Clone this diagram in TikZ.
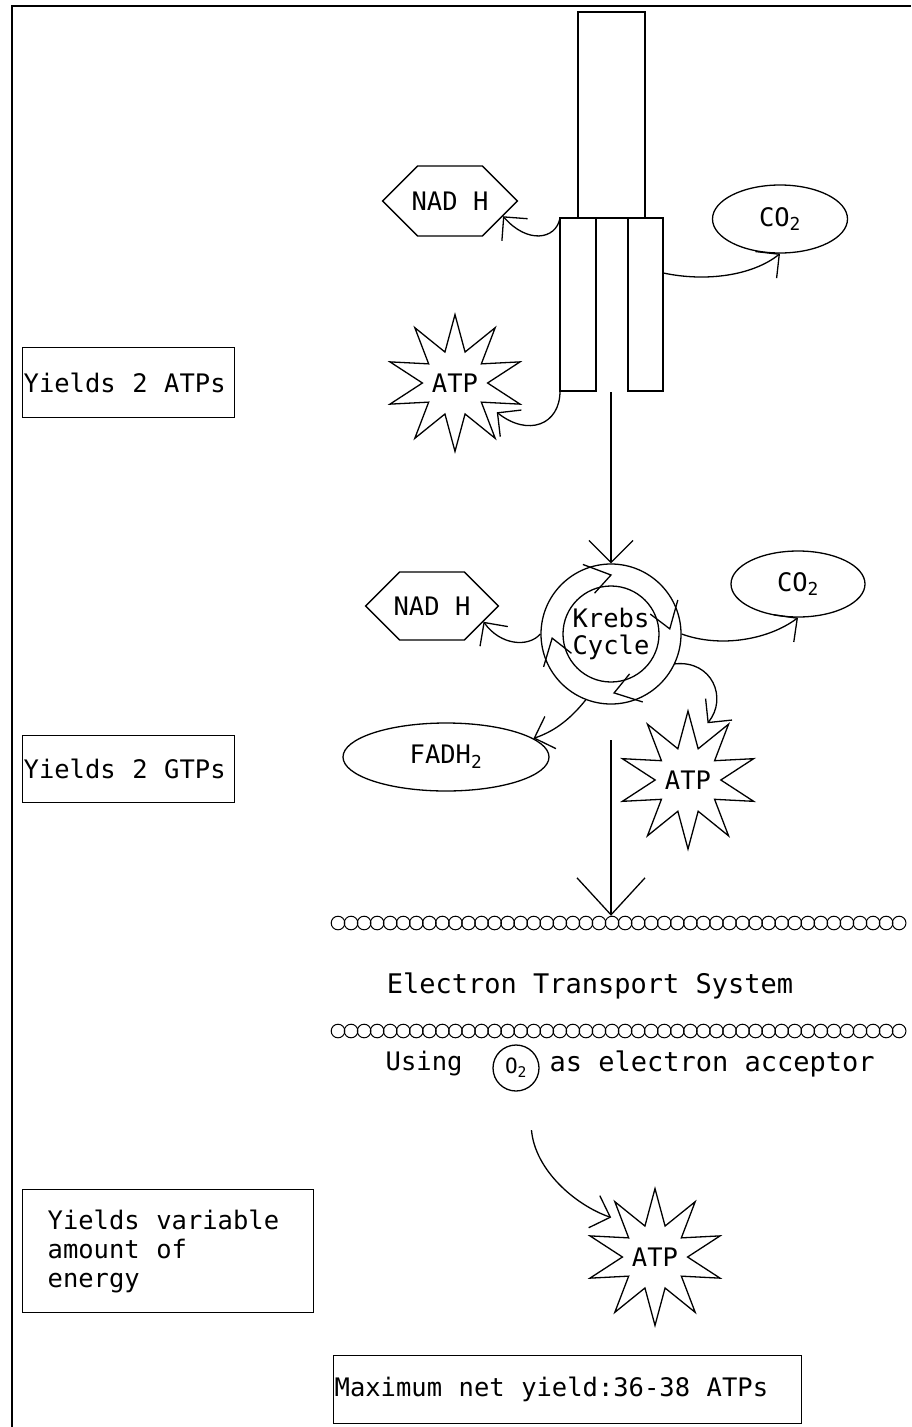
\documentclass[tikz,border=0pt]{standalone}
\usepackage{fontspec}
\setmainfont{DejaVu Sans Mono}
\usepackage{tikz}
\usetikzlibrary{shapes.geometric, shapes.symbols, arrows.meta, positioning, calc}
\tikzset{
  % Shapes
  frame/.style={draw=black, line width=2.5pt},
  line/.style={draw=black, line width=1.3pt},
  bead/.style={draw=black, line width=1pt},
  bar/.style={rectangle, draw=black, line width=1.3pt, inner sep=0pt, outer sep=0pt},
  hexbox/.style={signal, signal to=east and west, signal pointer angle=90, draw=black, line width=1.3pt, minimum height=70pt, inner xsep=-6pt, inner ysep=0pt},
  oval/.style={ellipse, draw=black, line width=1.3pt, minimum height=68pt, inner sep=0pt},
  burst/.style={star, star points=10, star point ratio=2.1, draw=black, line width=1.3pt, minimum size=136pt, inner sep=0pt},
  sidebox/.style={rectangle, draw=black, line width=1.3pt, align=left, inner sep=1pt, anchor=north west, execute at begin node={\spaceskip=0.65em\relax}},
  % Connectors
  arrow/.style={-{Straight Barb[length=17pt, width=34pt]}, line width=1.3pt},
  midarrow/.style={-{Straight Barb[length=22pt, width=44pt]}, line width=1.3pt},
  bigarrow/.style={-{Straight Barb[length=37pt, width=68pt]}, line width=1.3pt},
}

\begin{document}
\begin{tikzpicture}[x=1pt, y=-1pt, font=\fontsize{25.5}{27}\selectfont]
    \useasboundingbox (0,0) rectangle (911,1427);
    \draw[frame] (12,1427) -- (12,6) -- (911,6);

    % Bars
    \node[bar, minimum width=67pt, minimum height=206pt] (stem) at (611.5,115) {};
    \node[bar, minimum width=36pt, minimum height=173pt] (lbar) at (578,304.5) {};
    \node[bar, minimum width=35pt, minimum height=173pt] (rbar) at (645.5,304.5) {};

    % First products
    \node[hexbox] (nadha) at (450,201) {NAD H};
    \node[oval, minimum width=135pt] (coa) at (780,219) {CO\textsubscript{2}};
    \node[burst] (atpa) at (455,383) {ATP};

    \draw[arrow] (lbar.north west) .. controls (556,240) and (527,244) .. (nadha.-16);
    \draw[arrow] (lbar.south west) .. controls (560,425) and (528,437) .. ($(atpa)!51pt!(atpa.-35)$);
    \draw[arrow] (rbar.61) .. controls (705,282) and (752,276) .. (coa.south);

    % Krebs cycle
    \node[circle, draw=black, line width=1.3pt, minimum size=140pt, inner sep=0pt, align=center] (krebs) at (611,634) {Krebs\\Cycle};
    \draw[line] (krebs.center) circle (48);
    \foreach \a in {-100,-15,77,166}
      \draw[line] ($(krebs.center)+({\a-12}:44)$) -- ($(krebs.center)+({\a+10}:59)$) -- ($(krebs.center)+({\a-12}:75)$);

    \coordinate (split) at (611,392);
    \draw[midarrow] (split) -- (krebs.north);

    % Krebs products
    \node[hexbox, minimum height=68pt] (nadhb) at (432,606) {NAD H};
    \node[oval, minimum width=134pt, minimum height=66pt] (cob) at (798,584) {CO\textsubscript{2}};
    \node[oval, minimum width=206pt] (fadh) at (446,757) {FADH\textsubscript{2}};
    \node[burst, minimum size=138pt] (atpb) at (688,780) {ATP};

    \draw[arrow] (krebs.west) .. controls (528,648) and (500,645) .. (nadhb.-17);
    \draw[arrow] (krebs.east) .. controls (720,648) and (768,640) .. (cob.south);
    \draw[arrow] (krebs.-111) .. controls (568,722) and (552,732) .. (fadh.12);
    \draw[arrow] (krebs.-25) .. controls (712,660) and (728,698) .. ($(atpb)!60pt!(atpb.71)$);

    % Electron transport
    \node[minimum width=576pt, minimum height=14pt, inner sep=0pt] (etsa) at (619,923) {};
    \node[minimum width=576pt, minimum height=14pt, inner sep=0pt] (etsb) at (619,1031) {};
    \foreach \i in {0,...,43} {
      \draw[bead] (338+13.05*\i, 923) circle (6.8);
      \draw[bead] (338+13.05*\i, 1031) circle (6.8);
    }
    \coordinate (drop) at (611,740);
    \draw[bigarrow] (drop) -- (drop |- etsa.north);

    \node[font=\fontsize{27}{30}\selectfont] (etstext) at (590,986) {Electron Transport System};
    \node[anchor=east] (using) at (466,1064) {Using};
    \node[circle, draw=black, line width=1.3pt, minimum size=46pt, inner sep=0pt, font=\fontsize{21}{24}\selectfont] (oxy) at (516,1068) {O\textsubscript{2}};
    \node[anchor=west, font=\fontsize{27}{30}\selectfont] (accept) at (546,1064) {as electron acceptor};

    \node[burst, minimum size=134pt] (atpc) at (655,1257) {ATP};
    \draw[arrow] ($(oxy)!64pt!(oxy.-76)$) .. controls (535,1170) and (575,1205) .. ($(atpc)!59pt!(atpc.138)$);

    % Side notes
    \node[sidebox, minimum width=212pt, minimum height=70pt, text width=210pt] (yatp) at (22,347) {Yields 2 ATPs};
    \node[sidebox, minimum width=212pt, minimum height=67pt, text width=210pt] (ygtp) at (22,735) {Yields 2 GTPs};
    \node[sidebox, minimum height=123pt, text width=241pt, inner xsep=25pt, font=\fontsize{25.5}{29}\selectfont] (yvar) at (22,1189) {Yields variable\\amount of\\energy};
    \node[sidebox, minimum height=68pt, text width=466pt] (maxyield) at (333,1355) {Maximum net yield:36-38 ATPs};
\end{tikzpicture}
\end{document}
